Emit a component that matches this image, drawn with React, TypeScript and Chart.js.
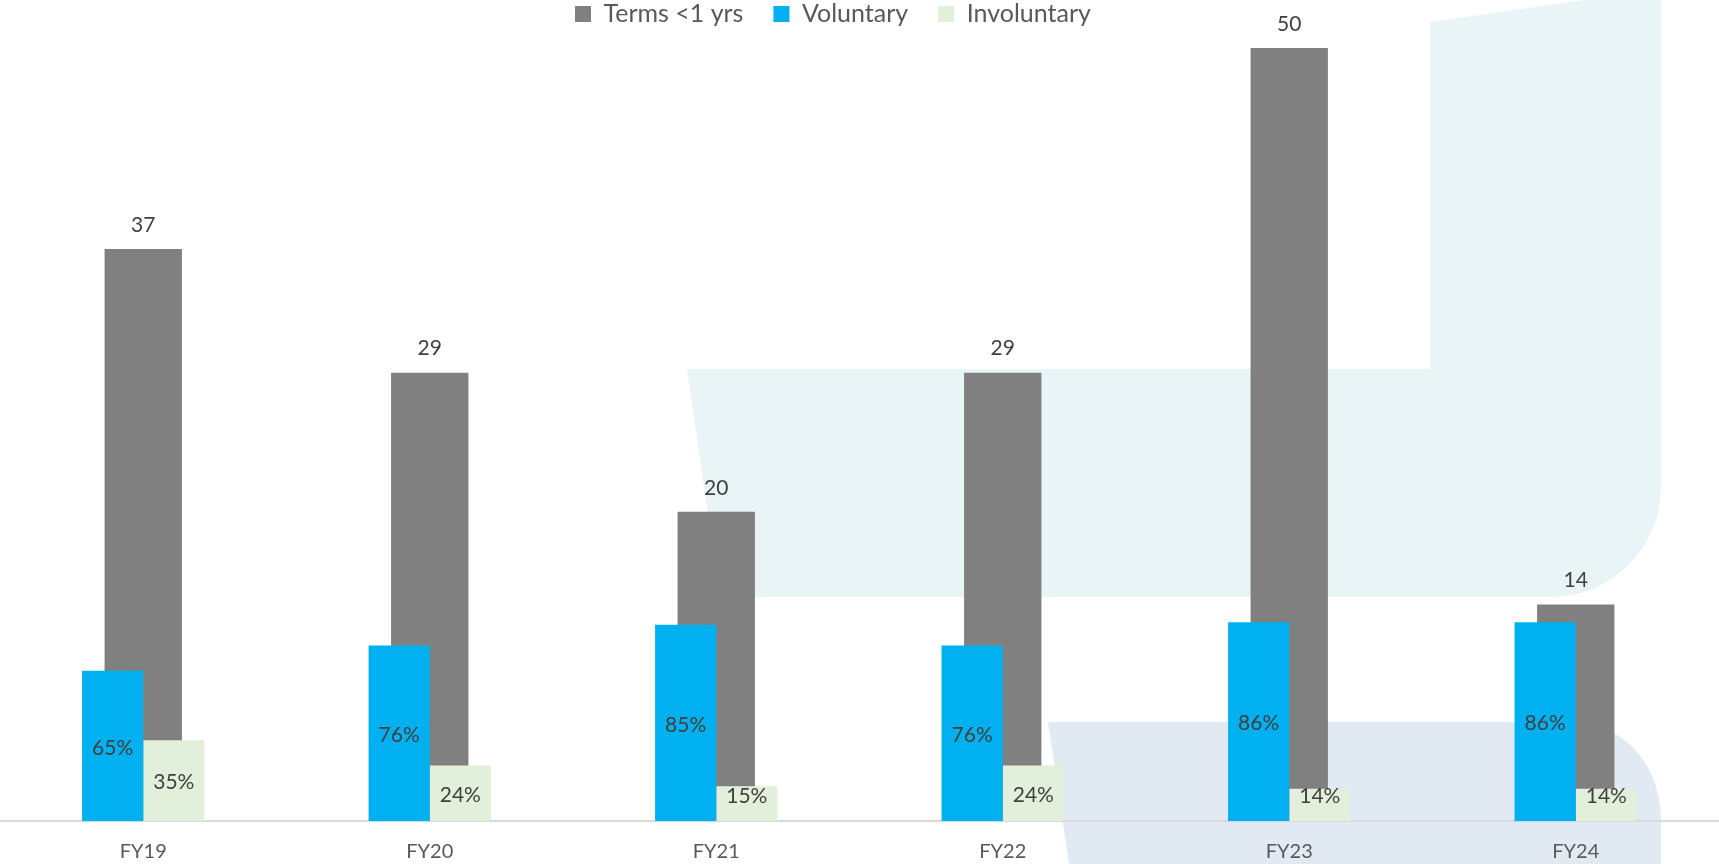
import React, { useEffect, useRef } from "react";
import { Chart, registerables } from "chart.js";

Chart.register(...registerables);

// ---- Data ----
const categories = ["FY19", "FY20", "FY21", "FY22", "FY23", "FY24"];
const termsUnder1Yr = [37, 29, 20, 29, 50, 14];
const voluntaryPct = [65, 76, 85, 76, 86, 86];
const involuntaryPct = [35, 24, 15, 24, 14, 14];
const seriesNames = ["Terms <1 yrs", "Voluntary", "Involuntary"];
const seriesColors = ["#808080", "#00B0F0", "#E2EFDA"];

const FONT = "Lato, 'Open Sans', sans-serif";
const LEGEND_SIZE = 25;
const LEGEND_PAD = 30;

// decorative background shapes behind the plot
const backgroundShapes = {
  id: "backgroundShapes",
  beforeDraw(chart: any) {
    const ctx = chart.ctx as CanvasRenderingContext2D;
    ctx.save();
    ctx.fillStyle = "#E8F4F6";
    ctx.beginPath();
    ctx.moveTo(687, 369);
    ctx.lineTo(1430, 369);
    ctx.lineTo(1430, 22);
    ctx.lineTo(1661, -11);
    ctx.lineTo(1661, 487);
    ctx.arcTo(1661, 597, 1551, 597, 110);
    ctx.lineTo(720, 597);
    ctx.closePath();
    ctx.fill();

    ctx.fillStyle = "#E1E9F3";
    ctx.beginPath();
    ctx.moveTo(1048, 722);
    ctx.lineTo(1568, 722);
    ctx.bezierCurveTo(1625, 722, 1661, 765, 1661, 822);
    ctx.lineTo(1661, 864);
    ctx.lineTo(1069, 864);
    ctx.closePath();
    ctx.fill();
    ctx.restore();
  },
};

// place the legend like the original (left-of-centre, close to the top)
const legendPlacement = {
  id: "legendPlacement",
  afterLayout(chart: any) {
    const lg = chart.legend;
    if (!lg) return;
    const dx = 575 - LEGEND_PAD - lg.left;
    lg.left += dx;
    lg.right += dx;
    const dy = 14 - LEGEND_SIZE / 2 - LEGEND_PAD - lg.top;
    lg.top += dy; // bottom kept so the legend's clip area still holds the text
  },
};

const valueLabels = {
  id: "valueLabels",
  afterDatasetsDraw(chart: any) {
    const ctx = chart.ctx as CanvasRenderingContext2D;
    ctx.save();
    ctx.textAlign = "center";
    ctx.textBaseline = "middle";
    ctx.fillStyle = "#404040";
    chart.data.datasets.forEach((ds: any, di: number) => {
      const meta = chart.getDatasetMeta(di);
      meta.data.forEach((bar: any, i: number) => {
        const v = ds.data[i] as number;
        if (di === 0) {
          ctx.font = `21px ${FONT}`;
          ctx.fillText(String(v), bar.x, bar.y - 24);
        } else {
          ctx.font = `21px ${FONT}`;
          const y = Math.min((bar.y + bar.base) / 2 + 2, bar.base - 25);
          ctx.fillText(`${v}%`, bar.x, y);
        }
      });
    });
    ctx.restore();
  },
};

export default function App() {
  const canvasRef = useRef<HTMLCanvasElement | null>(null);

  useEffect(() => {
    let chart: Chart | null = null;
    let cancelled = false;
    const build = () => {
      if (cancelled || !canvasRef.current) return;
      chart = new Chart(canvasRef.current, {
        type: "bar",
        data: {
          labels: categories,
          datasets: [
            {
              label: seriesNames[0],
              data: termsUnder1Yr,
              backgroundColor: seriesColors[0],
              yAxisID: "y",
              grouped: false,
              barPercentage: 0.27,
              categoryPercentage: 1,
              order: 2,
            } as any,
            {
              label: seriesNames[1],
              data: voluntaryPct,
              backgroundColor: seriesColors[1],
              yAxisID: "y1",
              barPercentage: 1,
              categoryPercentage: 0.427,
              order: 0,
            },
            {
              label: seriesNames[2],
              data: involuntaryPct,
              backgroundColor: seriesColors[2],
              yAxisID: "y1",
              barPercentage: 1,
              categoryPercentage: 0.427,
              order: 1,
            },
          ],
        },
        options: {
          responsive: true,
          maintainAspectRatio: false,
          animation: false,
          layout: { padding: 0 },
          plugins: {
            legend: {
              display: true,
              position: "top",
              align: "start",
              maxHeight: 48,
              labels: {
                boxWidth: 16,
                boxHeight: 16,
                padding: LEGEND_PAD,
                color: "#595959",
                font: { family: FONT, size: LEGEND_SIZE },
                sort: (a: any, b: any) => a.datasetIndex - b.datasetIndex,
              },
            } as any,
            tooltip: { enabled: false },
          },
          scales: {
            x: {
              grid: { display: false, drawTicks: false },
              border: { display: true, color: "#D9D9D9", width: 2 },
              ticks: {
                padding: 19,
                color: "#595959",
                font: { family: FONT, size: 20 },
              },
              afterFit: (scale: any) => {
                scale.height = 43;
              },
            },
            y: { display: false, min: 0, max: 50 },
            y1: { display: false, min: 0, max: 334.6 },
          },
        },
        plugins: [backgroundShapes, legendPlacement, valueLabels],
      });
    };
    const fontsReady = (document as any).fonts?.load
      ? Promise.all([
          (document as any).fonts.load(`20px Lato`),
          (document as any).fonts.load(`25px Lato`),
        ]).catch(() => null)
      : Promise.resolve(null);
    fontsReady.then(build);
    return () => {
      cancelled = true;
      if (chart) chart.destroy();
    };
  }, []);

  return (
    <div
      style={{
        position: "fixed",
        left: 0,
        top: 0,
        width: "1719px",
        height: "864px",
        background: "#FFFFFF",
      }}
    >
      <canvas ref={canvasRef} />
    </div>
  );
}
